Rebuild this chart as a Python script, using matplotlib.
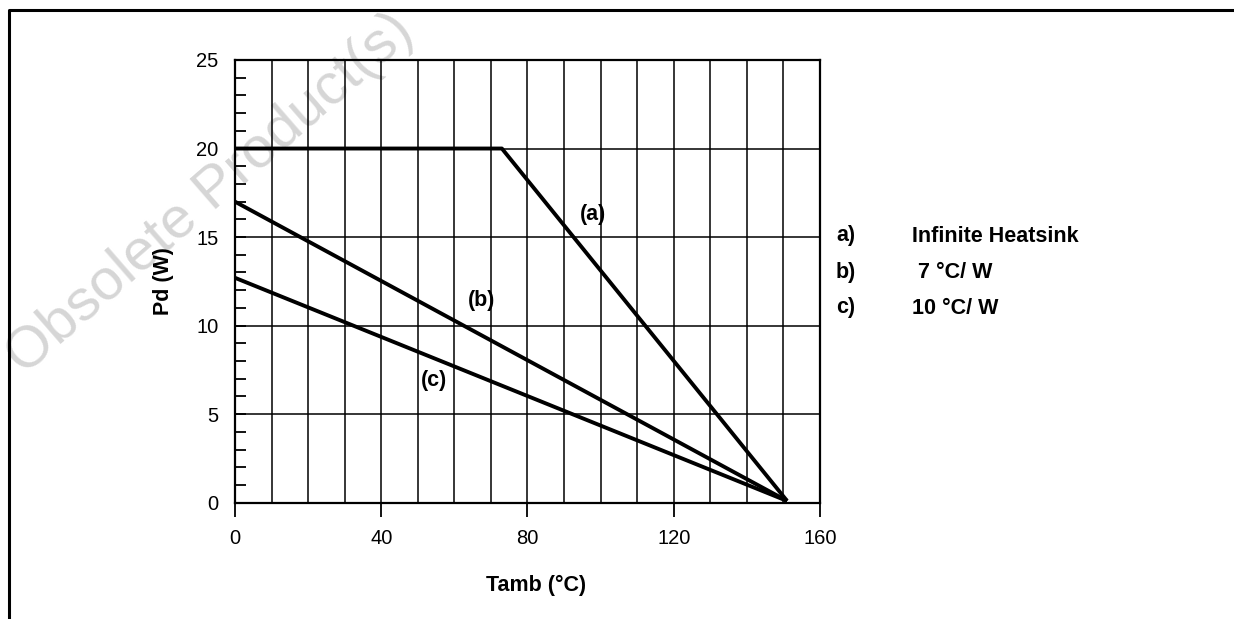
import matplotlib
matplotlib.use("Agg")
import matplotlib.pyplot as plt
from matplotlib.lines import Line2D

plt.rcParams['font.family'] = ['Liberation Sans', 'DejaVu Sans']

# derating curves, Tamb (°C) vs Pd (W)
tamb_a = [0, 73, 151]
pd_a = [20, 20, 0.1]
tamb_b = [0, 151]
pd_b = [17, 0.1]
tamb_c = [0, 151]
pd_c = [12.7, 0.1]

curve_labels = ["(a)", "(b)", "(c)"]
label_pos = [(98, 16.3), (67.5, 11.4), (54.5, 6.9)]

legend_keys = ["a)", "b)", "c)"]
legend_text = ["Infinite Heatsink", " 7 °C/ W", "10 °C/ W"]

fig = plt.figure(figsize=(12.34, 6.19), dpi=100)
ax = fig.add_axes([0.1904, 0.1879, 0.4741, 0.7152])
ax.set_facecolor('none')

ax.plot(tamb_a, pd_a, color='black', lw=2.8, solid_capstyle='butt')
ax.plot(tamb_b, pd_b, color='black', lw=2.8, solid_capstyle='butt')
ax.plot(tamb_c, pd_c, color='black', lw=2.8, solid_capstyle='butt')

ax.set_xlim(0, 160)
ax.set_ylim(0, 25)
ax.set_xticks([0, 40, 80, 120, 160])
ax.set_xticks(range(0, 161, 10), minor=True)
ax.set_yticks([0, 5, 10, 15, 20, 25])
ax.set_yticks(range(0, 26), minor=True)

for x in range(10, 160, 10):
    ax.axvline(x, color='black', lw=1.1, zorder=1)
for y in range(5, 25, 5):
    ax.axhline(y, color='black', lw=1.1, zorder=1)

ax.tick_params(axis='x', which='major', direction='out', length=10, width=1.3,
               labelsize=14.5, pad=9)
ax.tick_params(axis='x', which='minor', length=0)
ax.tick_params(axis='y', which='both', direction='in', length=8, width=1.3,
               labelsize=14.5, pad=12)
for s in ax.spines.values():
    s.set_linewidth(1.6)

ax.set_xlabel("Tamb (°C)", fontsize=15.5, fontweight='bold')
ax.xaxis.set_label_coords(0.515, -0.163)
ax.set_ylabel("Pd (W)", fontsize=15.5, fontweight='bold', labelpad=16)

for lab, (x, y) in zip(curve_labels, label_pos):
    ax.text(x, y, lab, fontsize=15.5, fontweight='bold', ha='center', va='center')

for i, (k, t) in enumerate(zip(legend_keys, legend_text)):
    yy = 1 - (236 + 36 * i) / 619
    fig.text(836 / 1234, yy, k, fontsize=15.5, fontweight='bold', va='center')
    fig.text(912 / 1234, yy, t, fontsize=15.5, fontweight='bold', va='center')

# page frame
fig.add_artist(Line2D([9 / 1234, 9 / 1234, 1.0], [0.0, 1 - 10 / 619, 1 - 10 / 619],
                      transform=fig.transFigure, color='black', lw=2.2))

# watermark
fig.text(210 / 1234, 1 - 194 / 619, "Obsolete Product(s)", fontsize=42, color='#d6d6d6',
         rotation=41, ha='center', va='center', zorder=-1)

fig.savefig("out.png", dpi=100)
